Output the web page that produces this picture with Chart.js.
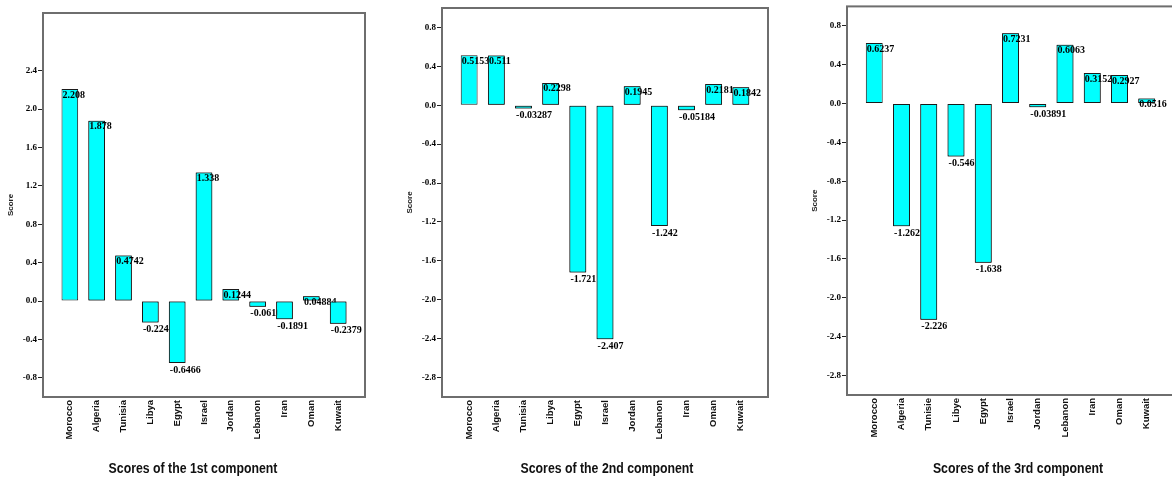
<!DOCTYPE html>
<html>
<head>
<meta charset="utf-8">
<script src="https://cdn.jsdelivr.net/npm/chart.js@4.4.1/dist/chart.umd.min.js"></script>
<style>
  body { margin: 0; background: #fff; width: 1172px; height: 479px; overflow: hidden; position: relative; }
  canvas { position: absolute; top: 0; }
  .caption {
    position: absolute; top: 459px; width: 300px; text-align: center;
    font-family: "Liberation Sans", Arial, sans-serif;
    font-weight: bold; font-size: 15px; color: #111;
    transform: scaleX(0.82); transform-origin: 50% 50%;
  }
</style>
</head>
<body>
<canvas id="chart1" width="390" height="479" style="left:0px"></canvas>
<canvas id="chart2" width="390" height="479" style="left:399px"></canvas>
<canvas id="chart3" width="390" height="479" style="left:804px"></canvas>
<div class="caption" style="left:43px">Scores of the 1st component</div>
<div class="caption" style="left:457px">Scores of the 2nd component</div>
<div class="caption" style="left:868px">Scores of the 3rd component</div>
<script>
const countries = ["Morocco", "Algeria", "Tunisia", "Libya", "Egypt", "Israel", "Jordan", "Lebanon", "Iran", "Oman", "Kuwait"];
const countriesFr = ["Morocco", "Algeria", "Tunisie", "Libye", "Egypt", "Israel", "Jordan", "Lebanon", "Iran", "Oman", "Kuwait"];

const scores1 = [2.208, 1.878, 0.4742, -0.2241, -0.6466, 1.338, 0.1244, -0.06108, -0.1891, 0.04884, -0.2379];
const scores2 = [0.5153, 0.511, -0.03287, 0.2298, -1.721, -2.407, 0.1945, -1.242, -0.05184, 0.2181, 0.1842];
const scores3 = [0.6237, -1.262, -2.226, -0.5461, -1.638, 0.7231, -0.03891, 0.6063, 0.3152, 0.2927, 0.0516];

const yTicks1 = [-0.8, -0.4, 0.0, 0.4, 0.8, 1.2, 1.6, 2.0, 2.4];
const yTicks23 = [-2.8, -2.4, -2.0, -1.6, -1.2, -0.8, -0.4, 0.0, 0.4, 0.8];

// grey box round the plot area
const framePlugin = {
  id: "frame",
  beforeDatasetsDraw(chart) {
    const { ctx, chartArea: a } = chart;
    ctx.save();
    ctx.strokeStyle = "#6e6e6e";
    ctx.lineWidth = 2;
    ctx.strokeRect(a.left, a.top, a.right - a.left, a.bottom - a.top);
    ctx.restore();
  },
};

// value labels at the bar ends; the next bar is drawn again over them like the original
const valueLabels = {
  id: "valueLabels",
  afterDatasetsDraw(chart) {
    const ctx = chart.ctx;
    const meta = chart.getDatasetMeta(0);
    const values = chart.data.datasets[0].data;
    ctx.save();
    ctx.font = "bold 10px 'Liberation Serif', serif";
    ctx.fillStyle = "#000";
    ctx.textAlign = "left";
    ctx.textBaseline = "top";
    meta.data.forEach((bar, i) => {
      const { x, y, width } = bar.getProps(["x", "y", "width"], true);
      const v = values[i].y;
      const ty = v >= 0 ? y + 1 : y + 2;
      ctx.fillText(String(v), x - width / 2 + 1, ty);
      if (meta.data[i + 1]) meta.data[i + 1].draw(ctx);
    });
    ctx.restore();
  },
};

function makeChart(id, names, scores, yMin, yMax, yTicks, top, right, xHeight) {
  const ctx = document.getElementById(id).getContext("2d");
  return new Chart(ctx, {
    type: "bar",
    data: {
      datasets: [
        {
          data: scores.map((v, i) => ({ x: i + 1, y: v })),
          backgroundColor: "#00ffff",
          borderColor: "#1a1a1a",
          borderWidth: 1,
          borderSkipped: false,
          categoryPercentage: 1,
          barPercentage: 0.62,
        },
      ],
    },
    options: {
      responsive: false,
      animation: false,
      layout: { padding: { top: top, right: right, left: 0, bottom: 0 } },
      plugins: {
        legend: { display: false },
        tooltip: { enabled: false },
      },
      scales: {
        x: {
          type: "linear",
          min: 0,
          max: 12,
          offset: false,
          grid: { display: false, drawTicks: false },
          border: { display: false },
          afterBuildTicks: (s) => {
            s.ticks = names.map((n, i) => ({ value: i + 1 }));
          },
          afterFit: (s) => {
            s.height = xHeight;
          },
          ticks: {
            autoSkip: false,
            minRotation: 90,
            maxRotation: 90,
            padding: 3,
            color: "#111",
            font: { family: "'Liberation Sans', sans-serif", size: 9.5, weight: "bold" },
            callback: (v) => names[v - 1] || "",
          },
        },
        y: {
          min: yMin,
          max: yMax,
          border: { display: false },
          grid: {
            drawOnChartArea: false,
            drawTicks: true,
            tickLength: 5,
            color: "#222",
          },
          afterBuildTicks: (s) => {
            s.ticks = yTicks.map((v) => ({ value: v }));
          },
          afterFit: (s) => {
            s.width = 43;
          },
          ticks: {
            padding: 1,
            color: "#000",
            font: { family: "'Liberation Serif', serif", size: 9, weight: "bold" },
            callback: (v) => v.toFixed(1),
          },
          title: {
            display: true,
            text: "Score",
            color: "#222",
            padding: { top: 6, bottom: 0 },
            font: { family: "'Liberation Sans', sans-serif", size: 8, weight: "bold" },
          },
        },
      },
    },
    plugins: [framePlugin, valueLabels],
  });
}

makeChart("chart1", countries, scores1, -1, 3, yTicks1, 13, 25, 82);
makeChart("chart2", countries, scores2, -3, 1, yTicks23, 8, 21, 82);
makeChart("chart3", countriesFr, scores3, -3, 1, yTicks23, 6, 20, 84);
</script>
</body>
</html>
